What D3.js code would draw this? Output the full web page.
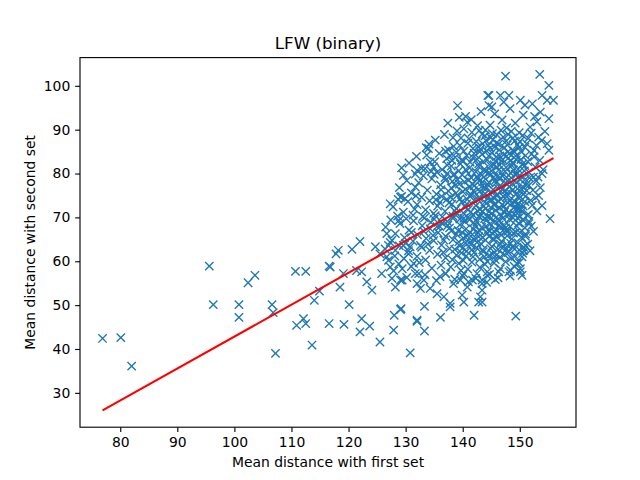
<!DOCTYPE html>
<html><head><meta charset="utf-8">
<script src="https://cdn.jsdelivr.net/npm/d3@7"></script>
<style>body{margin:0;background:#fff}svg{display:block}text{font-family:"DejaVu Sans",sans-serif}</style>
</head><body><svg id="c" width="640" height="480"></svg>
<script>
const title = "LFW (binary)";
const xLabel = "Mean distance with first set";
const yLabel = "Mean distance with second set";
const xTicks = [80,90,100,110,120,130,140,150];
const yTicks = [30,40,50,60,70,80,90,100];
const fitX = [76.9, 155.9];
const fitY = [26.0, 83.5];

const outliers = [[76.9,42.4],[80.1,42.6],[82.0,36.1],[95.6,58.9],[96.3,50.1],[100.8,50.1],[100.8,47.2],[102.4,55.1],[103.6,56.8],[106.6,50.1],[106.8,48.3],[107.2,39.0],[110.7,57.7],[112.5,57.7],[110.9,45.4],[112.1,46.9],[112.5,45.8],[113.6,40.9],[114.0,51.1],[114.9,53.2],[116.6,58.9],[116.6,45.8],[119.2,45.6],[122.3,46.9],[123.7,45.2],[122.0,43.9],[125.5,41.6],[127.9,44.3],[128.0,47.7],[129.2,49.2],[130.8,39.1],[132.0,46.6],[120.1,50.1],[118.5,54.1],[124.1,53.4],[123.2,55.3],[122.3,57.6],[121.4,57.9],[119.1,57.2],[116.8,58.7],[117.8,61.7],[118.2,62.5],[120.6,62.7],[122.0,64.5],[124.7,63.3],[125.5,61.7],[126.7,61.0],[126.7,66.3],[125.8,57.2],[127.3,58.7],[127.6,56.1],[129.1,55.7],[129.4,58.3],[128.2,54.1],[127.0,60.2],[130.5,61.7],[131.4,59.5],[132.3,57.2],[132.0,54.9],[127.6,64.8],[127.0,63.6],[128.2,62.5],[129.6,63.6],[130.8,63.3],[128.8,69.3],[127.3,73.1],[129.1,74.6],[129.9,74.3],[129.6,79.6],[131.7,76.9],[129.1,49.0],[133.3,49.7],[132.0,46.3],[133.3,44.1],[136.1,47.2],[137.8,50.4],[137.8,49.6],[142.0,47.7],[140.2,50.7],[142.8,50.7],[143.1,51.9],[139.9,52.3],[136.7,51.9],[135.5,52.6],[134.3,53.8],[132.6,53.8],[133.2,55.7],[131.7,57.2],[129.4,55.7],[137.0,57.2],[138.4,54.9],[139.6,55.7],[140.8,54.1],[141.7,55.7],[143.4,54.9],[144.3,56.8],[142.5,57.2],[140.2,57.2],[144.3,57.6],[146.3,57.6],[148.1,57.6],[150.1,57.6],[150.4,56.8],[145.7,55.8],[143.4,55.7],[143.4,53.4],[143.4,50.7],[149.3,47.5],[155.3,69.7],[153.9,80.0],[153.3,75.0],[153.9,72.7],[151.9,73.9],[151.3,70.5],[151.6,68.6],[151.0,66.2],[150.7,63.2],[151.0,63.6],[150.4,61.0],[149.5,59.5],[150.1,58.3],[148.4,57.9],[151.6,77.3],[152.4,79.2]];

const upper = [[147.5,102.2],[153.5,102.6],[155.1,100.1],[144.6,97.8],[146.6,97.8],[148.1,97.8],[153.9,97.8],[144.6,95.5],[147.2,96.3],[150.1,96.7],[152.2,95.9],[154.8,96.7],[155.9,96.7],[153.6,94.0],[155.1,92.5],[153.3,88.3],[154.8,86.8],[155.1,85.3],[152.5,85.3],[144.4,97.8],[139.1,95.5],[137.4,91.5],[140.5,93.0],[140.8,91.7],[140.2,90.2],[133.6,85.9],[134.0,85.7],[137.0,85.1],[129.3,81.3],[132.0,80.7],[134.3,82.6],[134.9,81.5],[133.4,81.1],[135.5,80.3],[138.7,83.7],[138.1,83.0],[139.6,82.2],[137.3,80.0],[138.4,79.6],
[141.5,92.3],[143.2,94.1],[144.8,91.0],[145.6,93.6],[146.9,92.2],[148.3,94.8],[149.2,91.5],[150.6,93.3],[151.8,90.6],[147.7,90.4],[142.6,90.9],[139.4,92.8],[145.1,95.2],[150.9,95.6],[153.0,91.8],[144.0,89.9],[152.6,93.0]];

const band85 = [[135.2,87.6],[136.8,88.9],[138.4,86.2],[139.7,88.1],[140.9,86.9],[141.6,89.4],[142.4,87.3],[143.1,85.6],[143.9,88.6],[144.5,86.4],[145.2,89.1],[145.9,87.0],[146.4,85.4],[147.1,88.3],[147.8,86.5],[148.5,89.6],[149.1,87.4],[149.9,85.9],[150.5,88.7],[151.2,86.8],[152.0,89.2],[153.8,87.5],[137.5,85.4],[140.2,85.1],[142.9,89.8],[146.7,89.9],[148.9,85.2],[144.2,85.2],[154.4,89.6],[139.0,89.7],[134.1,86.7]];

const band80 = [[130.6,82.4],[131.9,83.9],[132.8,81.2],[133.7,84.2],[135.1,82.7],[135.9,84.6],[136.4,80.9],[137.2,83.4],[138.0,81.7],[138.9,84.8],[139.3,80.6],[140.1,82.9],[140.7,84.1],[141.2,81.3],[141.8,83.6],[142.3,80.4],[142.8,82.2],[143.4,84.4],[143.8,81.0],[144.3,83.1],[144.7,80.2],[145.1,84.7],[145.5,82.0],[145.9,83.8],[146.3,80.8],[146.8,82.9],[147.2,84.3],[147.6,81.4],[148.0,83.5],[148.4,80.1],[148.8,82.5],[149.3,84.0],[149.7,81.0],[150.2,83.2],[150.8,80.6],[151.4,82.7],[152.1,84.5],[152.7,81.5],[153.5,83.0],[154.1,80.9],[139.8,83.0],[143.0,85.0],[146.0,81.5],[149.0,85.0],[134.5,80.5],[137.8,84.0],[141.0,80.0],[144.9,81.8],[147.9,84.9],[151.0,84.1]];

const band75 = [[128.9,76.8],[130.2,78.4],[131.0,75.6],[132.3,77.9],[133.1,79.5],[133.8,76.2],[134.6,78.8],[135.4,75.3],[136.1,77.4],[136.9,79.1],[137.5,76.0],[138.2,78.2],[138.8,75.5],[139.4,77.6],[139.9,79.7],[140.5,76.4],[141.0,78.5],[141.5,75.1],[142.0,77.2],[142.5,79.3],[143.0,76.0],[143.5,78.1],[143.9,75.4],[144.4,77.5],[144.8,79.6],[145.3,76.3],[145.7,78.4],[146.1,75.2],[146.6,77.3],[147.0,79.4],[147.4,76.1],[147.9,78.2],[148.3,75.6],[148.7,77.7],[149.2,79.8],[149.6,76.5],[150.1,78.6],[150.6,75.3],[151.1,77.4],[151.7,79.0],[152.3,76.2],[152.9,78.3],[153.6,76.8],[140.0,75.9],[143.2,79.9],[146.4,78.9],[149.9,75.0],[137.0,78.5],[144.1,76.6],[147.7,75.4],[135.0,79.8],[142.7,78.8],[145.0,75.8],[148.5,79.0],[150.5,77.0],[141.3,76.9],[138.5,79.9],[144.6,78.0],[146.9,76.4],[149.4,78.0]];

const band70 = [[127.8,72.4],[128.7,74.1],[129.6,71.2],[130.4,73.6],[131.3,70.5],[132.0,72.9],[132.8,74.6],[133.5,71.7],[134.2,73.8],[134.9,70.9],[135.6,72.6],[136.3,74.8],[136.9,71.4],[137.6,73.3],[138.3,70.3],[138.9,72.0],[139.5,74.2],[140.1,71.0],[140.7,73.1],[141.2,74.9],[141.8,70.6],[142.3,72.7],[142.9,74.4],[143.4,71.3],[143.9,73.5],[144.4,70.2],[144.9,72.3],[145.4,74.5],[145.8,71.6],[146.3,73.7],[146.8,70.4],[147.2,72.5],[147.7,74.7],[148.1,71.1],[148.6,73.2],[149.0,70.8],[149.5,72.9],[149.9,74.3],[150.4,71.4],[150.9,73.6],[151.5,70.7],[152.2,72.8],[153.0,71.5],[139.0,70.8],[142.0,73.9],[145.1,70.9],[148.3,74.0],[136.0,73.4],[144.0,72.0],[147.5,71.8],[141.0,71.8],[146.0,74.9],[143.0,70.1],[149.7,71.9],[137.9,74.6],[140.4,72.4],[145.6,73.0],[148.9,72.2],[133.0,70.2],[151.0,74.8],[143.6,74.9],[146.5,72.1],[139.8,73.5],[142.6,71.5],[144.7,73.9],[147.9,73.3],[150.1,70.2],[131.8,74.9],[135.2,70.4],[138.6,71.5]];

const band65 = [[126.5,67.8],[127.4,69.4],[128.2,66.3],[129.0,68.6],[129.8,65.4],[130.6,67.1],[131.4,69.2],[132.1,66.0],[132.9,68.1],[133.6,65.2],[134.3,67.4],[135.0,69.6],[135.7,66.5],[136.4,68.7],[137.0,65.7],[137.7,67.6],[138.3,69.8],[138.9,66.2],[139.5,68.3],[140.1,65.3],[140.6,67.4],[141.2,69.5],[141.7,66.1],[142.2,68.2],[142.8,65.6],[143.3,67.7],[143.8,69.7],[144.3,66.4],[144.8,68.5],[145.3,65.2],[145.8,67.3],[146.3,69.3],[146.8,66.0],[147.3,68.1],[147.8,65.8],[148.3,67.9],[148.8,69.9],[149.3,66.6],[149.8,68.7],[150.3,65.5],[150.9,67.6],[151.6,69.1],[152.4,66.8],[139.2,67.0],[142.5,69.0],[145.6,66.7],[148.6,65.1],[136.0,67.9],[144.1,68.0],[147.0,69.8],[141.0,66.3],[134.8,65.9],[143.0,66.9],[146.6,67.7],[149.5,68.0],[140.4,69.0],[138.0,66.9],[145.0,69.9],[131.0,66.6],[147.9,66.8],[150.6,69.3],[142.0,65.0],[144.6,65.7],[137.3,69.1],[133.3,69.9]];

const band60 = [[126.4,62.8],[127.3,64.3],[128.1,61.2],[128.9,63.5],[129.7,60.6],[130.5,62.4],[131.3,64.6],[132.0,61.1],[132.8,63.2],[133.5,60.3],[134.2,62.5],[134.9,64.7],[135.6,61.6],[136.3,63.7],[137.0,60.8],[137.7,62.9],[138.3,64.9],[138.9,61.4],[139.5,63.5],[140.1,60.2],[140.7,62.3],[141.3,64.4],[141.8,61.0],[142.4,63.1],[143.0,60.5],[143.5,62.6],[144.0,64.8],[144.6,61.3],[145.1,63.4],[145.7,60.4],[146.2,62.7],[146.8,64.5],[147.3,61.5],[147.9,63.6],[148.5,60.7],[149.1,62.8],[149.7,64.2],[150.5,61.8],[151.4,63.9],[139.8,61.9],[143.2,64.0],[146.5,60.9],[136.6,62.0],[142.0,62.0],[145.4,64.9],[148.0,62.0],[133.9,63.9],[140.5,64.2],[144.3,60.0],[138.2,60.3]];

const band55 = [[127.9,57.8],[128.8,59.4],[130.2,56.3],[131.0,58.8],[132.4,59.7],[133.4,56.9],[134.6,58.4],[135.4,55.6],[136.2,59.1],[137.0,57.2],[137.9,58.7],[138.6,55.9],[139.3,59.5],[140.0,56.7],[140.9,58.2],[141.6,59.8],[142.3,56.1],[143.0,58.6],[143.9,59.3],[144.7,57.0],[145.5,59.6],[146.6,58.3],[147.5,59.9],[148.3,56.6],[149.0,58.9],[149.9,59.7],[144.2,55.2],[139.7,57.9],[136.0,56.5],[146.2,56.2],[141.0,55.3]];

const core = [[141.4,63.8],[142.7,66.5],[143.6,62.2],[144.5,67.2],[145.2,61.7],[146.0,65.5],[146.9,63.0],[147.6,66.9],[148.4,64.1],[149.2,61.1],[141.9,68.8],[143.1,71.9],[144.2,69.4],[145.5,72.8],[146.4,68.3],[147.3,71.2],[148.2,69.6],[149.1,73.7],[142.1,75.7],[143.3,77.0],[144.5,74.6],[145.8,77.8],[146.7,74.2],[147.5,77.9],[148.8,76.3],[149.8,73.1],[141.5,79.0],[142.8,81.6],[143.7,79.2],[145.0,80.6],[146.2,79.5],[147.4,80.5],[148.6,81.8],[149.5,79.9],[142.0,84.6],[143.5,86.8],[144.6,84.0],[145.6,86.1],[146.5,84.0],[147.6,87.4],[148.2,84.6],[149.6,86.6],[150.3,84.9],[150.7,62.5],[151.0,65.7],[150.2,71.7],[151.2,76.1],[150.9,81.8],[140.3,78.1],[139.1,75.1],[138.1,73.0],[137.4,68.2],[136.7,64.8],[139.9,66.6],[140.9,70.0],[138.7,77.3],[137.3,81.9],[136.2,76.3],[135.3,74.0],[134.4,68.9],[133.2,66.8],[132.6,63.6],[131.6,71.9],[130.1,69.7],[129.3,74.8],[131.7,79.9],[130.0,64.1],[128.6,70.3],[141.1,87.9],[144.9,88.2],[148.0,88.9],[151.5,88.0],[152.5,83.8],[153.2,79.2],[152.8,74.5],[152.0,68.0],[151.8,62.4],[150.0,66.6]];

const core2 = [[140.6,61.2],[141.6,62.6],[142.5,64.3],[143.8,61.0],[144.9,62.9],[145.9,61.4],[146.6,63.9],[147.7,62.8],[148.7,63.3],[149.9,62.6],[140.8,65.8],[141.9,67.3],[143.5,65.4],[144.7,66.8],[145.5,68.9],[146.5,66.3],[147.5,67.6],[148.9,66.4],[149.6,69.9],[140.2,69.8],[141.4,71.2],[142.8,70.2],[143.7,72.6],[144.6,71.3],[145.9,70.1],[146.9,72.9],[148.0,70.5],[149.3,71.9],[150.6,72.6],[140.8,74.1],[141.9,76.1],[142.6,74.2],[143.8,76.8],[145.1,74.0],[146.2,76.6],[147.1,74.8],[148.2,76.9],[149.3,75.3],[150.4,76.3],[140.5,80.9],[141.7,77.7],[142.9,78.3],[144.0,80.4],[145.4,79.1],[146.5,81.9],[147.7,79.1],[148.9,80.8],[150.0,79.6],[151.0,78.7],[141.3,82.6],[142.5,83.3],[143.6,82.7],[144.8,85.8],[145.8,82.8],[147.0,83.2],[148.3,82.9],[149.4,83.1],[150.4,82.1],[151.6,80.3],[141.8,85.7],[142.7,86.1],[144.1,87.5],[145.3,87.7],[146.3,86.7],[147.3,85.9],[148.8,88.1],[150.0,87.3],[150.9,86.0],[152.9,86.4],[139.5,86.4],[138.3,88.2],[143.4,89.0],[146.0,88.8],[149.9,89.3],[139.1,78.6],[138.0,76.7],[137.2,74.1],[136.4,70.1],[135.5,67.9],[139.5,69.6],[140.0,63.0],[139.3,64.4],[138.6,62.7]];

const points = [].concat(outliers, upper, band85, band80, band75, band70, band65, band60, band55, core, core2);

const W = 640, H = 480;
const m = {left: 80, right: 576, top: 57.6, bottom: 427.2};
const svg = d3.select("#c");

const allX = points.map(d => d[0]).concat(fitX);
const allY = points.map(d => d[1]).concat(fitY);
const [x0, x1] = d3.extent(allX), [y0, y1] = d3.extent(allY);
const px = (x1 - x0) * 0.05, py = (y1 - y0) * 0.05;
const x = d3.scaleLinear().domain([x0 - px, x1 + px]).range([m.left, m.right]);
const y = d3.scaleLinear().domain([y0 - py, y1 + py]).range([m.bottom, m.top]);

svg.append("clipPath").attr("id", "clip").append("rect")
  .attr("x", m.left).attr("y", m.top).attr("width", m.right - m.left).attr("height", m.bottom - m.top);

const s = 4.17;
const g = svg.append("g").attr("clip-path", "url(#clip)");
g.selectAll("path.pt").data(points).enter().append("path")
  .attr("class", "pt")
  .attr("d", d => {
    const cx = x(d[0]), cy = y(d[1]);
    return `M${cx - s},${cy - s}L${cx + s},${cy + s}M${cx - s},${cy + s}L${cx + s},${cy - s}`;
  })
  .attr("stroke", "#1f77b4").attr("stroke-width", 1.39).attr("fill", "none");

const fit = fitX.map((v, i) => [v, fitY[i]]);
g.append("path").datum(fit)
  .attr("d", d3.line().x(d => x(d[0])).y(d => y(d[1])))
  .attr("stroke", "red").attr("stroke-width", 2.08).attr("fill", "none");

const fs = "13.9px";
const xa = svg.append("g").attr("transform", `translate(0,${m.bottom})`)
  .call(d3.axisBottom(x).tickValues(xTicks).tickSize(4.86).tickPadding(4.86).tickFormat(d3.format("d")));
const ya = svg.append("g").attr("transform", `translate(${m.left},0)`)
  .call(d3.axisLeft(y).tickValues(yTicks).tickSize(4.86).tickPadding(4.86).tickFormat(d3.format("d")));
[xa, ya].forEach(a => {
  a.select(".domain").remove();
  a.selectAll("line").attr("stroke", "#000").attr("stroke-width", 1.11);
  a.selectAll("text").attr("font-size", fs).attr("fill", "#000").attr("font-family", "DejaVu Sans");
});

svg.append("rect").attr("x", m.left).attr("y", m.top).attr("width", m.right - m.left).attr("height", m.bottom - m.top)
  .attr("fill", "none").attr("stroke", "#000").attr("stroke-width", 1.11);

svg.append("text").attr("x", (m.left + m.right) / 2).attr("y", 467).attr("text-anchor", "middle")
  .attr("font-size", fs).text(xLabel);
svg.append("text").attr("transform", `translate(35,${(m.top + m.bottom) / 2}) rotate(-90)`)
  .attr("text-anchor", "middle").attr("font-size", fs).text(yLabel);
svg.append("text").attr("x", (m.left + m.right) / 2).attr("y", 49.3).attr("text-anchor", "middle")
  .attr("font-size", "16.7px").text(title);
</script></body></html>
